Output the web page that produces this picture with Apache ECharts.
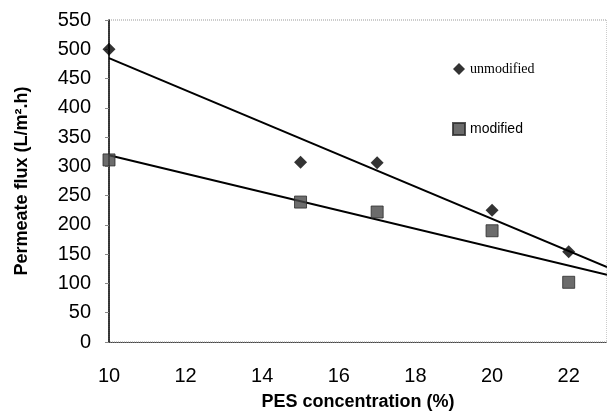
<!DOCTYPE html>
<html>
<head>
<meta charset="utf-8">
<script src="https://cdn.jsdelivr.net/npm/echarts@6/dist/echarts.min.js"></script>
<style>
html, body { margin: 0; padding: 0; background: #fff; }
#chart { width: 607px; height: 418px; }
</style>
</head>
<body>
<div id="chart"></div>
<script>
// PES concentration (%)
var concentration = [10, 15, 17, 20, 22];
// permeate flux (L/m2.h)
var unmodified = [500, 307, 306, 225, 154];
var modified = [311, 239, 222, 190, 102];
// trend lines, at both ends of the axis
var trendX = [10, 23];
var unmodifiedTrend = [485, 128];
var modifiedTrend = [319, 115];

function pairs(xs, ys) {
    var out = [];
    for (var i = 0; i < xs.length; i++) {
        out.push([xs[i], ys[i]]);
    }
    return out;
}

var myChart = echarts.init(document.getElementById('chart'));

var option = {
    animation: false,
    backgroundColor: '#fff',
    grid: {
        left: 109,
        right: 0,
        top: 20,
        bottom: 76,
        show: true,
        borderColor: '#999',
        borderWidth: 1,
        borderType: 'dotted'
    },
    legend: {
        orient: 'vertical',
        left: 447,
        top: 57,
        itemWidth: 12,
        itemHeight: 12,
        itemGap: 46,
        data: [
            {name: 'unmodified', icon: 'diamond',
             textStyle: {fontFamily: 'Liberation Serif', fontSize: 14, color: '#000'}},
            {name: 'modified', icon: 'rect',
             textStyle: {fontFamily: 'Liberation Sans', fontSize: 14, color: '#000'}}
        ]
    },
    xAxis: {
        type: 'value',
        min: 10,
        max: 23,
        interval: 2,
        name: 'PES concentration (%)',
        nameLocation: 'middle',
        nameGap: 51,
        nameTextStyle: {fontFamily: 'Liberation Sans', fontSize: 18, fontWeight: 'bold', color: '#000'},
        axisLine: {lineStyle: {color: '#444', width: 1, type: 'dotted'}},
        axisTick: {show: false},
        splitLine: {show: false},
        axisLabel: {
            fontFamily: 'Liberation Sans', fontSize: 20, color: '#000', margin: 24,
            showMaxLabel: false
        }
    },
    yAxis: {
        type: 'value',
        min: 0,
        max: 550,
        interval: 50,
        name: 'Permeate flux (L/m².h)',
        nameLocation: 'middle',
        nameGap: 78,
        nameTextStyle: {fontFamily: 'Liberation Sans', fontSize: 18, fontWeight: 'bold', color: '#000'},
        axisLine: {show: true, lineStyle: {color: '#000', width: 1.5}},
        axisTick: {show: true, length: 4, lineStyle: {color: '#888'}},
        splitLine: {show: false},
        axisLabel: {fontFamily: 'Liberation Sans', fontSize: 20, color: '#000', margin: 18}
    },
    series: [
        {
            name: 'unmodified-trend',
            type: 'line',
            data: pairs(trendX, unmodifiedTrend),
            symbol: 'none',
            lineStyle: {color: '#000', width: 2},
            z: 2
        },
        {
            name: 'modified-trend',
            type: 'line',
            data: pairs(trendX, modifiedTrend),
            symbol: 'none',
            lineStyle: {color: '#000', width: 2},
            z: 2
        },
        {
            name: 'unmodified',
            type: 'scatter',
            data: pairs(concentration, unmodified),
            symbol: 'diamond',
            symbolSize: 13,
            itemStyle: {color: '#000'},
            z: 3
        },
        {
            name: 'modified',
            type: 'scatter',
            data: pairs(concentration, modified),
            symbol: 'rect',
            symbolSize: 12,
            itemStyle: {color: '#474747', borderColor: '#2a2a2a', borderWidth: 1},
            z: 3
        }
    ]
};

myChart.setOption(option, true);
</script>
</body>
</html>
